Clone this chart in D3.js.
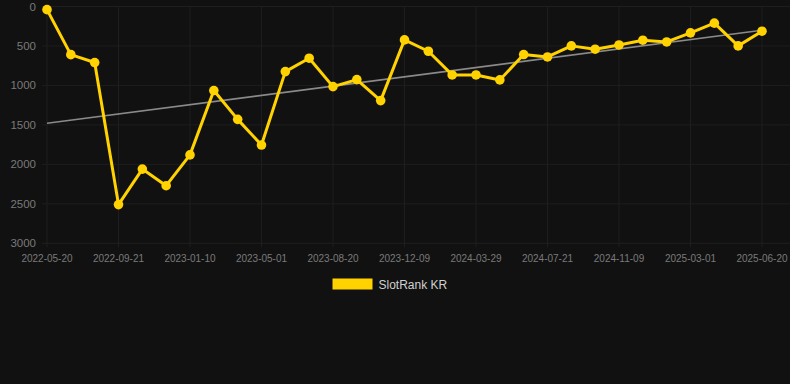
<!DOCTYPE html>
<html>
<head>
<meta charset="utf-8">
<script src="https://cdn.jsdelivr.net/npm/d3@7"></script>
<style>
  html, body { margin: 0; padding: 0; background: #111111; }
  svg { display: block; font-family: "Liberation Sans", Arial, Helvetica, sans-serif; }
</style>
</head>
<body>
<div id="chart"></div>
<script>
// one category per sample, labels shown on every third one
const dates = [
  '2022-05-20', '2022-06-30', '2022-08-10', '2022-09-21', '2022-10-28', '2022-12-04',
  '2023-01-10', '2023-02-16', '2023-03-25', '2023-05-01', '2023-06-07', '2023-07-14',
  '2023-08-20', '2023-09-26', '2023-11-02', '2023-12-09', '2024-01-15', '2024-02-21',
  '2024-03-29', '2024-05-06', '2024-06-13', '2024-07-21', '2024-08-27', '2024-10-03',
  '2024-11-09', '2024-12-16', '2025-01-22', '2025-03-01', '2025-04-07', '2025-05-14',
  '2025-06-20'
];
const ranks = [
  40, 610, 710, 2510, 2060, 2270, 1880, 1065, 1430, 1755, 825, 655,
  1015, 926, 1192, 423, 567, 867, 867, 930, 609, 639, 499, 541,
  487, 427, 449, 334, 211, 499, 313
];
const yTicks = [0, 500, 1000, 1500, 2000, 2500, 3000];
const seriesName = 'SlotRank KR';

const width = 790, height = 384;
const margin = {left: 42, top: 6.5, right: 0, bottom: 140.7};
const plotBottom = height - margin.bottom;

const svg = d3.select('#chart').append('svg')
    .attr('width', width)
    .attr('height', height);

svg.append('rect').attr('width', width).attr('height', height).attr('fill', '#111111');

var x = d3.scalePoint()
    .domain(dates)
    .range([47, 762]);

var y = d3.scaleLinear()
    .domain([0, 3000])
    .range([margin.top, plotBottom]);

const tickDates = dates.filter((d, i) => i % 3 == 0);

// grid
svg.append('g')
  .selectAll('line')
  .data(yTicks)
  .enter().append('line')
    .attr('x1', margin.left)
    .attr('x2', width)
    .attr('y1', d => y(d))
    .attr('y2', d => y(d))
    .attr('stroke', '#1e1e1e')
    .attr('stroke-width', 1);

svg.append('g')
  .selectAll('line')
  .data(tickDates)
  .enter().append('line')
    .attr('x1', d => x(d))
    .attr('x2', d => x(d))
    .attr('y1', margin.top)
    .attr('y2', plotBottom + 4)
    .attr('stroke', '#1e1e1e')
    .attr('stroke-width', 1);

// y labels
svg.append('g')
  .selectAll('text')
  .data(yTicks)
  .enter().append('text')
    .attr('x', 36)
    .attr('y', d => y(d))
    .attr('dy', '0.35em')
    .attr('text-anchor', 'end')
    .attr('fill', '#7a7a7a')
    .attr('font-size', 11.5)
    .text(d => d);

// x labels
svg.append('g')
  .selectAll('text')
  .data(tickDates)
  .enter().append('text')
    .attr('x', d => x(d))
    .attr('y', plotBottom + 15.5)
    .attr('dy', '0.35em')
    .attr('text-anchor', 'middle')
    .attr('fill', '#7a7a7a')
    .attr('font-size', 10)
    .text(d => d);

// least squares trend
var n = ranks.length;
var mx = d3.mean(ranks, (d, i) => i);
var my = d3.mean(ranks);
var sxy = d3.sum(ranks, (d, i) => (i - mx) * (d - my));
var sxx = d3.sum(ranks, (d, i) => (i - mx) * (i - mx));
var slope = sxy / sxx;
var trend = [0, n - 1].map(i => ({date: dates[i], v: my + slope * (i - mx)}));

svg.append('path')
    .datum(trend)
    .attr('fill', 'none')
    .attr('stroke', '#8a8a8a')
    .attr('stroke-width', 1.6)
    .attr('d', d3.line().x(d => x(d.date)).y(d => y(d.v)));

// series
const gold = '#ffd200';
var line = d3.line()
    .x((d, i) => x(dates[i]))
    .y(d => y(d));

svg.append('path')
    .datum(ranks)
    .attr('fill', 'none')
    .attr('stroke', gold)
    .attr('stroke-width', 3)
    .attr('stroke-linejoin', 'round')
    .attr('d', line);

svg.append('g')
  .selectAll('circle')
  .data(ranks)
  .enter().append('circle')
    .attr('cx', (d, i) => x(dates[i]))
    .attr('cy', d => y(d))
    .attr('r', 4.8)
    .attr('fill', gold);

// legend
var legend = svg.append('g').attr('transform', 'translate(332.5,278.5)');
legend.append('rect')
    .attr('width', 40)
    .attr('height', 11)
    .attr('fill', gold);
legend.append('text')
    .attr('x', 46)
    .attr('y', 5.8)
    .attr('dy', '0.35em')
    .attr('fill', '#d0d0d0')
    .attr('font-size', 12)
    .text(seriesName);
</script>
</body>
</html>
